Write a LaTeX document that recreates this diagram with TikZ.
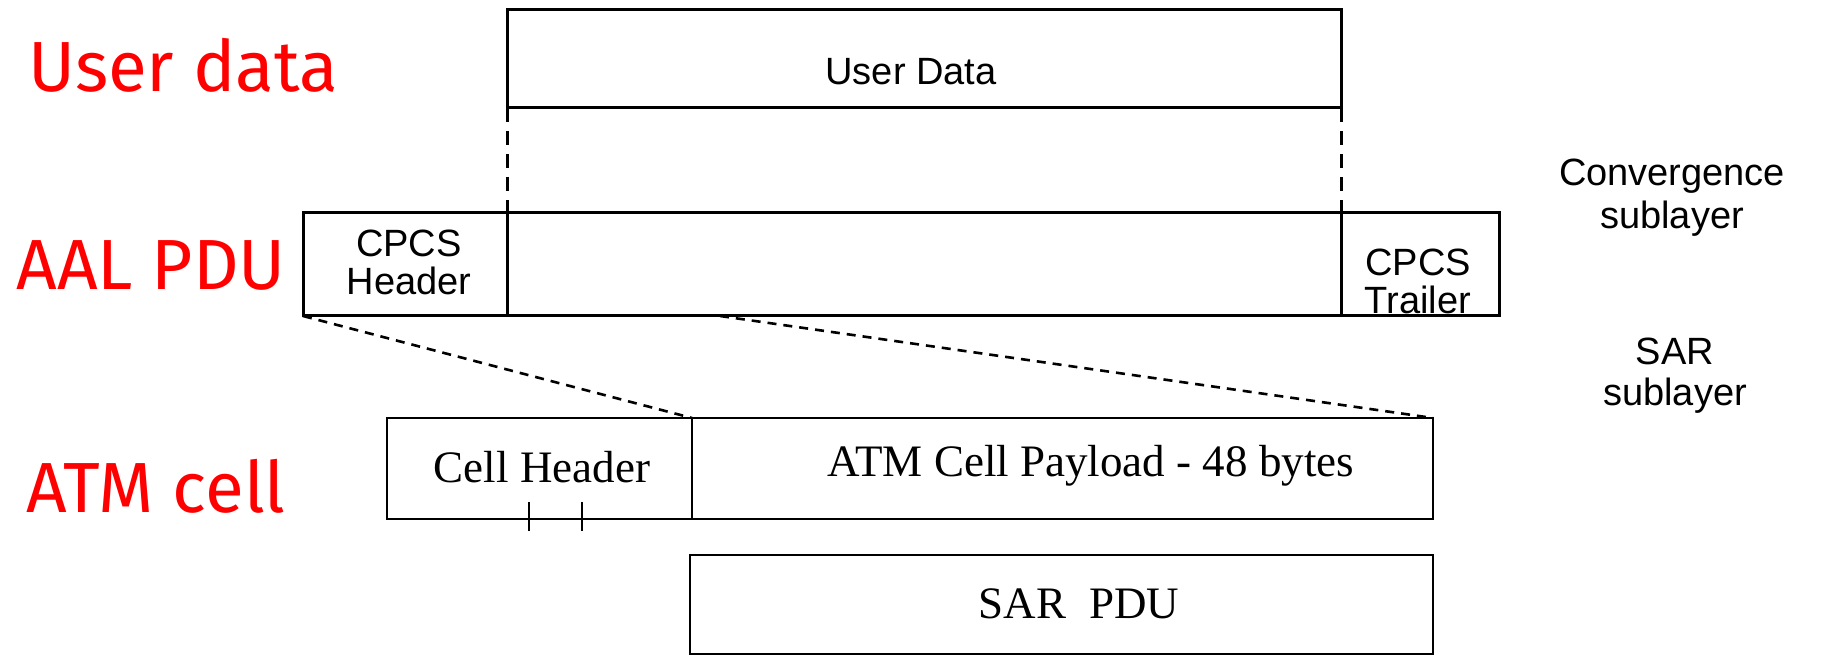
\documentclass[tikz,border=0pt]{standalone}
\usepackage{fontspec}
\setmainfont{Liberation Serif}
\setsansfont{Liberation Sans}
\newfontfamily\handfont{Fira Sans}
\usetikzlibrary{fit}
\definecolor{labred}{RGB}{255,0,0}
\tikzset{
  thickbox/.style={draw, line width=1.5pt, inner sep=0pt, outer sep=0pt},
  thinbox/.style={draw, line width=0.9pt, inner sep=0pt, outer sep=0pt},
  vdash/.style={line width=1.5pt, dash pattern=on 7pt off 4.5pt},
  ddash/.style={line width=1.3pt, dash pattern=on 4.5pt off 3.5pt},
  sanslbl/.style={font=\sffamily\fontsize{19}{20}\selectfont, inner sep=0pt, anchor=base},
  seriflbl/.style={font=\rmfamily\fontsize{22.5}{24}\selectfont, inner sep=0pt, anchor=base},
  redlbl/.style={font=\handfont\fontsize{35.5}{38}\selectfont, text=labred, inner sep=0pt, anchor=base west},
}
\begin{document}
\begin{tikzpicture}[x=0.5pt,y=-0.5pt]
\useasboundingbox (0,0) rectangle (1821,657);
% boxes
\node[thickbox, fit={(507.5,9.5) (1341,108)}] (ud) {};
\node[thickbox, fit={(303,212.5) (507.5,316)}] (hdr) {};
\node[thickbox, fit={(507.5,212.5) (1341,316)}] (mid) {};
\node[thickbox, fit={(1341,212.5) (1499,316)}] (trl) {};
\node[thinbox, fit={(387,418) (692,519)}] (ch) {};
\node[thinbox, fit={(692,418) (1433,519)}] (pl) {};
\node[thinbox, fit={(690,555) (1433,654)}] (sar) {};
% connectors
\draw[vdash] (ud.south west) -- (mid.north west);
\draw[vdash] (ud.south east) -- (mid.north east);
\coordinate (cut) at (720,316);
\draw[ddash] (hdr.south west) -- (pl.north west);
\draw[ddash] (cut) -- (pl.north east);
% ticks
\draw[line width=0.9pt] (529,502) -- (529,531);
\draw[line width=0.9pt] (582,502) -- (582,531);
% texts
\node[sanslbl] (tud) at (911,85) {User Data};
\node[sanslbl] (thc) at (409,257) {CPCS};
\node[sanslbl] (thh) at (409,295) {Header};
\node[sanslbl] (ttc) at (1418,276) {CPCS};
\node[sanslbl] (ttt) at (1418,314) {Trailer};
\node[sanslbl] (tcv) at (1672,186) {Convergence};
\node[sanslbl] (tcs) at (1672,229) {sublayer};
\node[sanslbl] (tsr) at (1675,365) {SAR};
\node[sanslbl] (tss) at (1675,406) {sublayer};
\node[seriflbl] (tch) at (542,483) {Cell Header};
\node[seriflbl] (tpl) at (1091,477) {ATM Cell Payload - 48 bytes};
\node[seriflbl] (tsp) at (1079,618) {SAR\ \ PDU};
\node[redlbl] (rud) at (28,92) {User data};
\node[redlbl] (raa) at (16,290) {AAL PDU};
\node[redlbl] (rat) at (26,513) {ATM cell};
\end{tikzpicture}
\end{document}
